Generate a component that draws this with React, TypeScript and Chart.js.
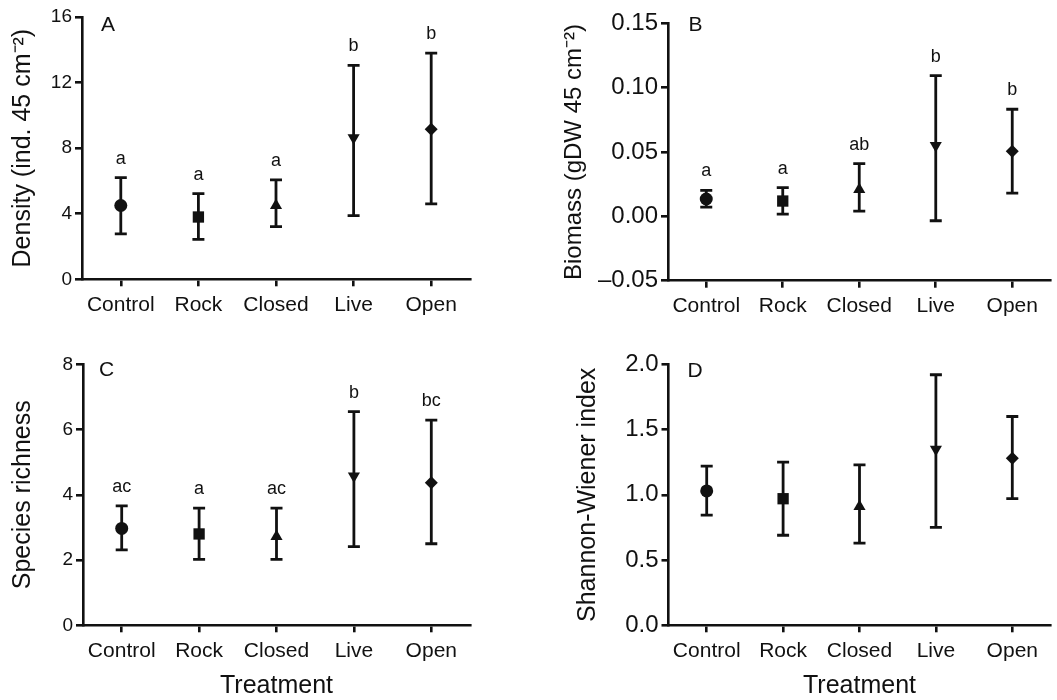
import React, { useEffect, useRef } from "react";
import { Chart, registerables } from "chart.js";

Chart.register(...registerables);

// ---------- data ----------
const treatments = ["Control", "Rock", "Closed", "Live", "Open"];

const densityMean = [4.5, 3.8, 4.5, 8.63, 9.16];
const densityUpper = [6.2, 5.23, 6.06, 13.05, 13.8];
const densityLower = [2.77, 2.44, 3.21, 3.88, 4.6];
const densityLetters = ["a", "a", "a", "b", "b"];

const biomassMean = [0.0135, 0.0119, 0.0208, 0.055, 0.0505];
const biomassUpper = [0.0202, 0.0223, 0.041, 0.1094, 0.0832];
const biomassLower = [0.0072, 0.0018, 0.0041, -0.0034, 0.0181];
const biomassLetters = ["a", "a", "ab", "b", "b"];

const richnessMean = [2.97, 2.8, 2.72, 4.58, 4.37];
const richnessUpper = [3.66, 3.59, 3.59, 6.55, 6.29];
const richnessLower = [2.31, 2.02, 2.02, 2.41, 2.5];
const richnessLetters = ["ac", "a", "ac", "b", "bc"];

const shannonMean = [1.03, 0.97, 0.91, 1.35, 1.28];
const shannonUpper = [1.22, 1.25, 1.23, 1.92, 1.6];
const shannonLower = [0.845, 0.69, 0.63, 0.75, 0.97];

// ---------- style ----------
const INK = "#111111";
const FONT = "'Liberation Sans', Arial, Helvetica, sans-serif";
const markerStyles = ["circle", "rect", "triangle", "triangle", "rectRot"];
const markerRotation = [0, 0, 0, 180, 0];
const markerRadius = [6.5, 8, 7, 7, 6.5];

type PanelCfg = {
  left: number;
  top: number;
  width: number;
  height: number;
  area: { left: number; right: number; top: number; bottom: number };
  mean: number[];
  upper: number[];
  lower: number[];
  letters: string[] | null;
  yMin: number;
  yMax: number;
  yStep: number;
  decimals: number;
  yTitle: string;
  yTitleSize: number;
  yTitlePad: number;
  yTickSize: number;
  xTitle: string | null;
  tag: string;
  tagX: number;
  tagY: number;
};

const panels: PanelCfg[] = [
  {
    left: 0, top: 0, width: 530, height: 340,
    area: { left: 82, right: 470, top: 17, bottom: 279.3 },
    mean: densityMean, upper: densityUpper, lower: densityLower, letters: densityLetters,
    yMin: 0, yMax: 16, yStep: 4, decimals: 0,
    yTitle: "Density (ind. 45 cm\u207B\u00B2)", yTitleSize: 25, yTitlePad: 8, yTickSize: 19,
    xTitle: null, tag: "A", tagX: 101, tagY: 30.7,
  },
  {
    left: 530, top: 0, width: 527, height: 340,
    area: { left: 138, right: 524, top: 23.3, bottom: 280.7 },
    mean: biomassMean, upper: biomassUpper, lower: biomassLower, letters: biomassLetters,
    yMin: -0.05, yMax: 0.15, yStep: 0.05, decimals: 2,
    yTitle: "Biomass (gDW 45 cm\u207B\u00B2)", yTitleSize: 24, yTitlePad: 30, yTickSize: 24,
    xTitle: null, tag: "B", tagX: 158.5, tagY: 30.7,
  },
  {
    left: 0, top: 340, width: 530, height: 360,
    area: { left: 83, right: 470, top: 24.3, bottom: 285.3 },
    mean: richnessMean, upper: richnessUpper, lower: richnessLower, letters: richnessLetters,
    yMin: 0, yMax: 8, yStep: 2, decimals: 0,
    yTitle: "Species richness", yTitleSize: 25, yTitlePad: 8, yTickSize: 19,
    xTitle: "Treatment", tag: "C", tagX: 99, tagY: 36,
  },
  {
    left: 530, top: 340, width: 527, height: 360,
    area: { left: 138.5, right: 527, top: 24.3, bottom: 285.3 },
    mean: shannonMean, upper: shannonUpper, lower: shannonLower, letters: null,
    yMin: 0, yMax: 2, yStep: 0.5, decimals: 1,
    yTitle: "Shannon-Wiener index", yTitleSize: 25, yTitlePad: 43, yTickSize: 24,
    xTitle: "Treatment", tag: "D", tagX: 157.5, tagY: 36.7,
  },
];

function Panel({ p }: { p: PanelCfg }) {
  const ref = useRef<HTMLCanvasElement | null>(null);

  useEffect(() => {
    const canvas = ref.current;
    if (!canvas) return;

    const errorBars = {
      id: "errorBars",
      beforeDatasetsDraw(chart: any) {
        const { ctx } = chart;
        const xs = chart.scales.x;
        const ys = chart.scales.y;
        ctx.save();
        ctx.strokeStyle = INK;
        ctx.lineWidth = 2.8;
        ctx.lineCap = "butt";
        for (let i = 0; i < p.mean.length; i++) {
          const px = xs.getPixelForValue(i);
          const yu = ys.getPixelForValue(p.upper[i]);
          const yl = ys.getPixelForValue(p.lower[i]);
          ctx.beginPath();
          ctx.moveTo(px, yu);
          ctx.lineTo(px, yl);
          ctx.moveTo(px - 6, yu);
          ctx.lineTo(px + 6, yu);
          ctx.moveTo(px - 6, yl);
          ctx.lineTo(px + 6, yl);
          ctx.stroke();
        }
        ctx.restore();
      },
      afterDraw(chart: any) {
        const { ctx } = chart;
        const xs = chart.scales.x;
        const ys = chart.scales.y;
        ctx.save();
        ctx.fillStyle = INK;
        ctx.textBaseline = "alphabetic";
        if (p.letters) {
          ctx.font = `18px ${FONT}`;
          ctx.textAlign = "center";
          for (let i = 0; i < p.letters.length; i++) {
            const px = xs.getPixelForValue(i);
            const yu = ys.getPixelForValue(p.upper[i]);
            ctx.fillText(p.letters[i], px, yu - 14);
          }
        }
        ctx.font = `21px ${FONT}`;
        ctx.textAlign = "left";
        ctx.fillText(p.tag, p.tagX, p.tagY);
        ctx.restore();
      },
    };

    const fmt = (v: any) => {
      let n = Number(v);
      if (Math.abs(n) < 1e-9) n = 0;
      const s = n.toFixed(p.decimals);
      return s.replace("-", "\u2013");
    };

    const chart = new Chart(canvas, {
      type: "line",
      data: {
        labels: treatments,
        datasets: [
          {
            data: p.mean,
            showLine: false,
            pointStyle: markerStyles as any,
            pointRotation: markerRotation,
            pointRadius: markerRadius,
            pointHoverRadius: markerRadius,
            pointBackgroundColor: INK,
            pointBorderColor: INK,
            pointBorderWidth: 0,
            clip: false as any,
          } as any,
        ],
      },
      options: {
        responsive: false,
        maintainAspectRatio: false,
        animation: false,
        events: [],
        devicePixelRatio: 1,
        layout: {
          padding: {
            left: 0,
            top: p.area.top,
            right: p.width - p.area.right,
            bottom: 0,
          },
        },
        plugins: {
          legend: { display: false },
          tooltip: { enabled: false },
        },
        scales: {
          x: {
            type: "category",
            offset: true,
            grid: {
              display: true,
              drawOnChartArea: false,
              drawTicks: true,
              tickLength: 7,
              lineWidth: 2.6,
              tickWidth: 2.6,
              color: INK,
              tickColor: INK,
              offset: false,
            },
            border: { display: true, color: INK, width: 2.6 },
            ticks: {
              color: INK,
              font: { family: FONT, size: 21 },
              padding: 6,
              maxRotation: 0,
              minRotation: 0,
              autoSkip: false,
            },
            title: p.xTitle
              ? {
                  display: true,
                  text: p.xTitle,
                  color: INK,
                  font: { family: FONT, size: 25 },
                  padding: { top: 0, bottom: -1 },
                }
              : { display: false },
            afterFit: (s: any) => {
              s.height = p.height - p.area.bottom;
            },
          },
          y: {
            type: "linear",
            min: p.yMin,
            max: p.yMax,
            grid: {
              display: true,
              drawOnChartArea: false,
              drawTicks: true,
              tickLength: 7,
              lineWidth: 2.6,
              tickWidth: 2.6,
              color: INK,
              tickColor: INK,
            },
            border: { display: true, color: INK, width: 2.6 },
            ticks: {
              color: INK,
              font: { family: FONT, size: p.yTickSize },
              padding: 3,
              stepSize: p.yStep,
              callback: fmt,
            },
            title: {
              display: true,
              text: p.yTitle,
              color: INK,
              font: { family: FONT, size: p.yTitleSize },
              padding: { top: p.yTitlePad, bottom: 0 },
            },
            afterFit: (s: any) => {
              s.width = p.area.left;
            },
          },
        },
      } as any,
      plugins: [errorBars as any],
    });

    return () => {
      chart.destroy();
    };
  }, [p]);

  return (
    <canvas
      ref={ref}
      width={p.width}
      height={p.height}
      style={{
        position: "absolute",
        left: p.left,
        top: p.top,
        width: p.width,
        height: p.height,
        display: "block",
      }}
    />
  );
}

export default function App() {
  return (
    <div
      style={{
        position: "absolute",
        left: 0,
        top: 0,
        width: 1057,
        height: 700,
        overflow: "hidden",
        background: "#ffffff",
      }}
    >
      {panels.map((p) => (
        <Panel key={p.tag} p={p} />
      ))}
    </div>
  );
}
